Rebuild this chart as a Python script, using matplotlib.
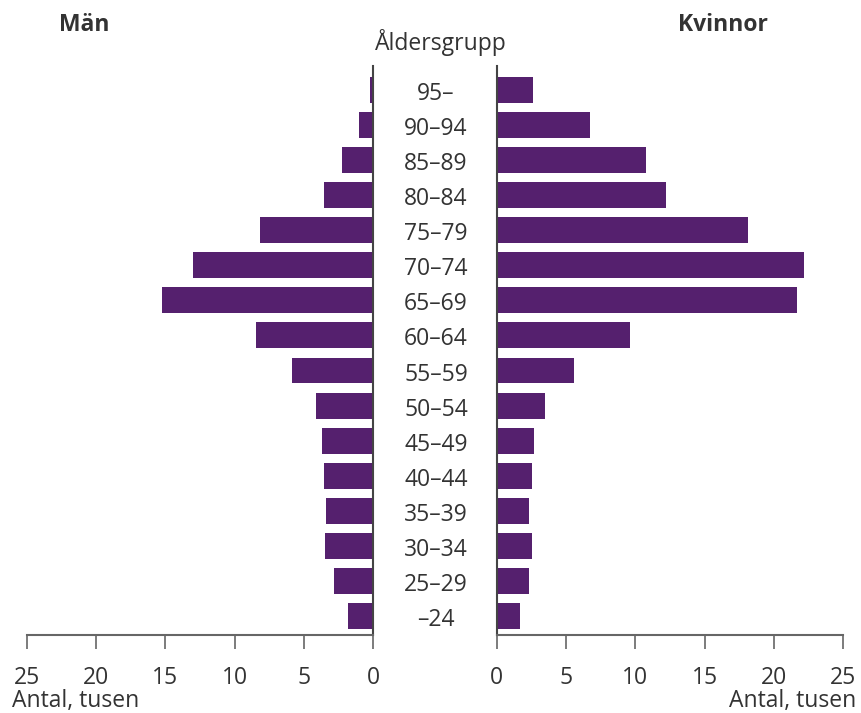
import matplotlib
matplotlib.use("Agg")
import matplotlib.pyplot as plt
from matplotlib.transforms import blended_transform_factory, offset_copy

plt.rcParams['font.family'] = ['Open Sans', 'DejaVu Sans']

# age groups, top to bottom
ages = ['95–', '90–94', '85–89', '80–84', '75–79', '70–74', '65–69', '60–64',
        '55–59', '50–54', '45–49', '40–44', '35–39', '30–34', '25–29', '–24']
# thousands
men = [0.24, 1.03, 2.26, 3.55, 8.17, 13.0, 15.24, 8.46,
       5.86, 4.13, 3.70, 3.55, 3.41, 3.48, 2.83, 1.82]
women = [2.62, 6.73, 10.76, 12.2, 18.1, 22.15, 21.65, 9.6,
         5.57, 3.48, 2.69, 2.55, 2.33, 2.55, 2.33, 1.68]
xticks = [0, 5, 10, 15, 20, 25]

bar_color = '#55206E'
txt = '#333333'
spine_c = '#666666'
fs = 16.5

fig = plt.figure(figsize=(8.61, 7.13), dpi=100)
ax_l = fig.add_axes([0.0310, 0.1094, 0.4026, 0.798])
ax_r = fig.add_axes([0.5769, 0.1094, 0.4026, 0.798])

n = len(ages)
ypos = [n - 1 - i for i in range(n)]

ax_l.barh(ypos, men, height=0.74, color=bar_color)
ax_r.barh(ypos, women, height=0.74, color=bar_color)

for ax in (ax_l, ax_r):
    ax.set_xlim(0, 25)
    ax.set_ylim(-0.54, n - 1 + 0.68)
    ax.set_xticks(xticks)
    ax.set_yticks([])
    ax.spines['top'].set_visible(False)
    ax.spines['bottom'].set_color(spine_c)
    ax.spines['bottom'].set_linewidth(1.5)
    ax.tick_params(axis='x', direction='out', length=10, width=1.2, color=spine_c,
                   labelsize=fs, labelcolor=txt, pad=12)

ax_l.invert_xaxis()
ax_l.spines['left'].set_visible(False)
ax_l.spines['right'].set_color('#444444')
ax_l.spines['right'].set_linewidth(1.5)
ax_r.spines['right'].set_visible(False)
ax_r.spines['left'].set_color('#444444')
ax_r.spines['left'].set_linewidth(1.5)

# age labels in the gap between the two panels, a bit below bar centre
trans = blended_transform_factory(fig.transFigure, ax_r.transData)
trans = offset_copy(trans, fig=fig, y=-4, units='dots')
for y, a in zip(ypos, ages):
    fig.text(436 / 861, y, a, transform=trans, ha='center', va='center',
             fontsize=fs, color=txt)

fig.text(84 / 861, 1 - 25 / 713, 'Män', ha='center', va='center',
         fontsize=fs, fontweight='bold', color=txt)
fig.text(723 / 861, 1 - 25 / 713, 'Kvinnor', ha='center', va='center',
         fontsize=fs, fontweight='bold', color=txt)
fig.text(441 / 861, 1 - 43 / 713, 'Åldersgrupp', ha='center', va='center',
         fontsize=fs, color=txt)
fig.text(12 / 861, 1 - 701 / 713, 'Antal, tusen', ha='left', va='center',
         fontsize=fs, color=txt)
fig.text(856 / 861, 1 - 701 / 713, 'Antal, tusen', ha='right', va='center',
         fontsize=fs, color=txt)

fig.savefig('out.png', dpi=100)
